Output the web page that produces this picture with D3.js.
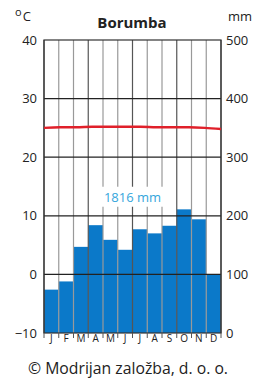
<!DOCTYPE html>
<html lang="sl">
<head>
<meta charset="UTF-8">
<title>Borumba</title>
<script src="https://d3js.org/d3.v7.min.js"></script>
<style>
    body { margin: 0; background: #fff; font-family: "Open Sans", "DejaVu Sans", sans-serif; }
    svg { display: block; }
</style>
</head>
<body>
<div id="chart"></div>
<script>
// podatki
const months = ["J", "F", "M", "A", "M", "J", "J", "A", "S", "O", "N", "D"];
const precip = [74, 88, 147, 184, 159, 142, 177, 170, 183, 211, 194, 100];
const temps = [25.0, 25.1, 25.1, 25.2, 25.2, 25.2, 25.2, 25.1, 25.1, 25.1, 25.0, 24.8];
const tempTicks = [-10, 0, 10, 20, 30, 40];
const precipTicks = [0, 100, 200, 300, 400, 500];
const title = "Borumba";
const total = "1816 mm";

const W = 255, H = 381;
const m = {left: 44, right: 34, top: 40, bottom: 48};
const w = W - m.left - m.right, h = H - m.top - m.bottom;

const svg = d3.select("#chart").append("svg").attr("width", W).attr("height", H);
const g = svg.append("g").attr("transform", `translate(${m.left},${m.top})`);

const x = d3.scaleBand().domain(d3.range(12)).range([0, w]).padding(0);
const xLine = d3.scalePoint().domain(d3.range(12)).range([0, w]);
const yT = d3.scaleLinear().domain([-10, 40]).range([h, 0]);
const yP = d3.scaleLinear().domain([0, 500]).range([h, 0]);

// stolpci padavin
g.selectAll("rect.bar").data(precip).join("rect")
    .attr("class", "bar")
    .attr("x", (d, i) => x(i))
    .attr("width", x.bandwidth())
    .attr("y", d => yP(d))
    .attr("height", d => h - yP(d))
    .attr("fill", "#0b79c9");

// navpične črte
g.selectAll("line.v").data(d3.range(13)).join("line")
    .attr("class", "v")
    .attr("x1", i => i * x.step()).attr("x2", i => i * x.step())
    .attr("y1", 0).attr("y2", h)
    .attr("stroke", i => i % 3 === 0 ? "#555" : "#999")
    .attr("stroke-width", 1.2);

// vodoravne črte
g.selectAll("line.hz").data(tempTicks.filter(t => t > -10 && t < 40)).join("line")
    .attr("class", "hz")
    .attr("x1", 0).attr("x2", w)
    .attr("y1", d => yT(d)).attr("y2", d => yT(d))
    .attr("stroke", "#222").attr("stroke-width", 1.2);

// okvir
g.append("rect").attr("width", w).attr("height", h)
    .attr("fill", "none").attr("stroke", "#333").attr("stroke-width", 1.2);

// temperatura
g.append("path").datum(temps)
    .attr("d", d3.line().x((d, i) => xLine(i)).y(d => yT(d)).curve(d3.curveMonotoneX))
    .attr("fill", "none").attr("stroke", "#e0202a").attr("stroke-width", 2.4);

// letna količina
const lbl = g.append("text").attr("x", w / 2).attr("y", yT(12.4))
    .attr("text-anchor", "middle").attr("font-size", 13).attr("fill", "#35a6dc")
    .text(total);
const bb = lbl.node().getBBox();
g.insert("rect", "text").attr("x", bb.x - 2).attr("y", bb.y - 1)
    .attr("width", bb.width + 4).attr("height", bb.height + 2).attr("fill", "#fff");

// osi
const left = g.append("g").call(d3.axisLeft(yT).tickValues(tempTicks).tickSize(0).tickPadding(7));
const right = g.append("g").attr("transform", `translate(${w},0)`)
    .call(d3.axisRight(yP).tickValues(precipTicks).tickSize(0).tickPadding(5));
[left, right].forEach(a => {
    a.select(".domain").remove();
    a.selectAll("text").attr("font-size", 13).attr("fill", "#222")
        .attr("font-family", "'Open Sans', sans-serif");
});

// meseci
const bottom = g.append("g").attr("transform", `translate(0,${h})`);
bottom.selectAll("line").data(d3.range(13)).join("line")
    .attr("x1", i => i * x.step()).attr("x2", i => i * x.step())
    .attr("y1", 0).attr("y2", 5).attr("stroke", "#555").attr("stroke-width", 1);
bottom.selectAll("text").data(months).join("text")
    .attr("x", (d, i) => x(i) + x.bandwidth() / 2).attr("y", 9)
    .attr("text-anchor", "middle").attr("font-size", 10).attr("fill", "#222")
    .text(d => d);

// naslovi
svg.append("text").attr("x", 132).attr("y", 28).attr("text-anchor", "middle")
    .attr("font-size", 15).attr("font-weight", "bold").attr("fill", "#222").text(title);
const unitT = svg.append("text").attr("x", 15).attr("y", 21).attr("font-size", 13).attr("fill", "#222");
unitT.append("tspan").attr("font-size", 11).attr("dy", -5).text("o");
unitT.append("tspan").attr("dy", 5).attr("dx", 1).text("C");
svg.append("text").attr("x", 228).attr("y", 21).attr("font-size", 13).attr("fill", "#222").text("mm");
svg.append("text").attr("x", 128).attr("y", 374).attr("text-anchor", "middle")
    .attr("font-size", 16).attr("fill", "#222")
    .attr("textLength", 200).attr("lengthAdjust", "spacingAndGlyphs")
    .text("© Modrijan založba, d. o. o.");
</script>
</body>
</html>
